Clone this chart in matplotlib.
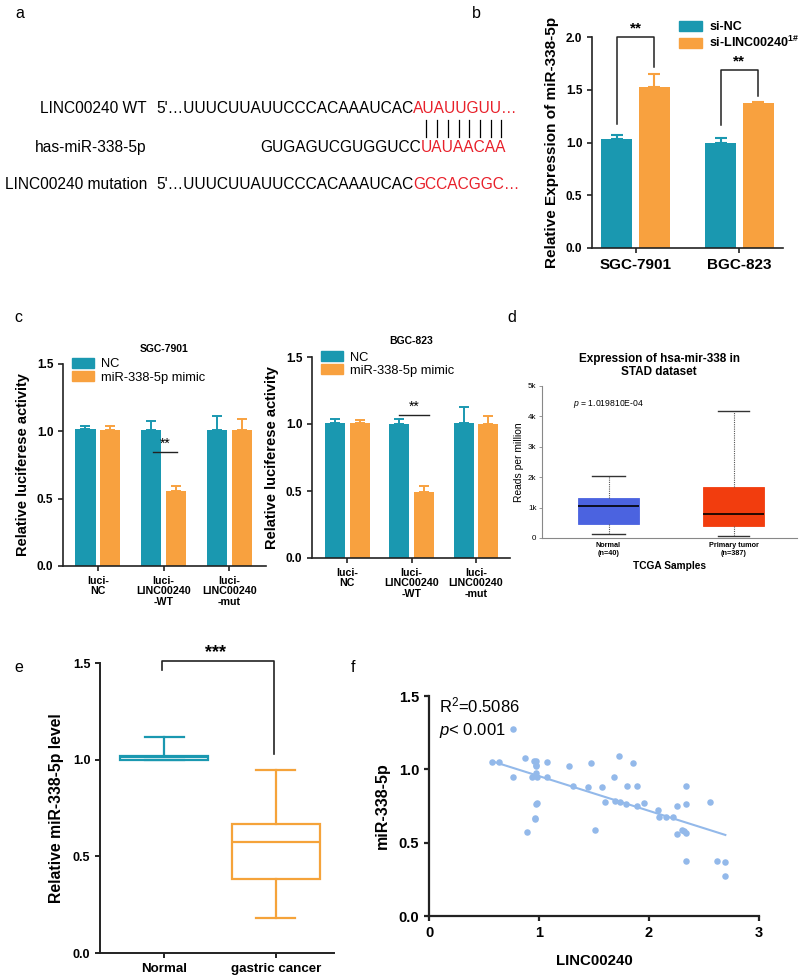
import numpy as np
import matplotlib
matplotlib.use('Agg')
import matplotlib.pyplot as plt
from matplotlib.patches import Patch

plt.rcParams['font.family'] = ['Liberation Sans', 'DejaVu Sans']
plt.rcParams['mathtext.fontset'] = 'custom'
plt.rcParams['mathtext.rm'] = 'Liberation Sans'
plt.rcParams['mathtext.it'] = 'Liberation Sans:italic'
plt.rcParams['mathtext.bf'] = 'Liberation Sans:bold'

TEAL = '#1A98B0'
ORANGE = '#F8A13F'

# ---------------- data ----------------
# panel a
a_names = ['LINC00240 WT', 'has-miR-338-5p', 'LINC00240 mutation']
a_black = ["5'\u2026UUUCUUAUUCCCACAAAUCAC", "GUGAGUCGUGGUCC", "5'\u2026UUUCUUAUUCCCACAAAUCAC"]
a_red = ["AUAUUGUU\u2026", "UAUAACAA", "GCCACGGC\u2026"]

# panel b
b_groups = ['SGC-7901', 'BGC-823']
b_sinc = [1.03, 1.00]
b_sinc_err = [0.04, 0.045]
b_silinc = [1.53, 1.375]
b_silinc_err = [0.115, 0.013]

# panel c
c_groups = ['luci-\nNC', 'luci-\nLINC00240\n-WT', 'luci-\nLINC00240\n-mut']
c1_nc = [1.02, 1.01, 1.01]
c1_nc_err = [0.022, 0.065, 0.105]
c1_mimic = [1.01, 0.56, 1.01]
c1_mimic_err = [0.03, 0.035, 0.08]
c2_nc = [1.01, 1.00, 1.01]
c2_nc_err = [0.025, 0.037, 0.115]
c2_mimic = [1.01, 0.49, 1.00]
c2_mimic_err = [0.022, 0.05, 0.06]

# panel d
d_labels = ['Normal\n(n=40)', 'Primary tumor\n(n=387)']
d_med = [1050, 790]
d_q1 = [460, 395]
d_q3 = [1316, 1667]
d_lo = [120, 77]
d_hi = [2050, 4180]

# panel e
e_labels = ['Normal', 'gastric cancer']
e_med = [1.012, 0.574]
e_q1 = [1.0, 0.385]
e_q3 = [1.02, 0.667]
e_lo = [1.0, 0.181]
e_hi = [1.115, 0.947]

# panel f
f_x = [0.764, 0.576, 0.636, 0.764, 0.873, 0.894, 0.933, 0.958, 0.973, 0.970,
       0.976, 0.973, 0.985, 0.970, 0.985, 0.961, 0.961, 1.070, 1.070, 1.273,
       1.309, 1.448, 1.470, 1.512, 1.570, 1.597, 1.682, 1.694, 1.730, 1.733,
       1.794, 1.803, 1.858, 1.891, 1.894, 1.952, 2.082, 2.091, 2.152, 2.218,
       2.258, 2.258, 2.297, 2.318, 2.339, 2.339, 2.339, 2.333, 2.552, 2.618,
       2.688, 2.694]
f_y = [1.277, 1.047, 1.047, 0.947, 1.077, 0.571, 0.947, 1.058, 1.058, 1.029,
       1.022, 0.972, 0.947, 0.765, 0.772, 0.669, 0.658, 1.047, 0.947, 1.022,
       0.886, 0.881, 1.045, 0.587, 0.881, 0.779, 0.947, 0.781, 1.088, 0.774,
       0.763, 0.883, 1.045, 0.753, 0.888, 0.772, 0.722, 0.674, 0.674, 0.672,
       0.749, 0.558, 0.587, 0.578, 0.886, 0.763, 0.569, 0.376, 0.779, 0.376,
       0.369, 0.275]

# ---------------- figure ----------------
W, H = 800, 975
fig = plt.figure(figsize=(W / 100, H / 100), dpi=100)


def add_ax(x0, y0, x1, y1):
    return fig.add_axes([x0 / W, 1 - y1 / H, (x1 - x0) / W, (y1 - y0) / H])


bg = fig.add_axes([0, 0, 1, 1])
bg.set_xlim(0, W)
bg.set_ylim(H, 0)
bg.axis('off')
for lab, (px, py) in zip('abcdef', [(20, 14), (476, 14), (18, 318), (512, 317), (19, 667), (353, 667)]):
    bg.text(px, py, lab, fontsize=11.5, ha='center', va='center')

# ---- panel a ----
FA = 11.2
a_rows_y = [113, 152, 189]
a_start = [156, 260, 156]
fig.canvas.draw()
renderer = fig.canvas.get_renderer()
red_texts = []
for name, blk, red, y, x0 in zip(a_names, a_black, a_red, a_rows_y, a_start):
    bg.text(147, y, name, fontsize=FA, ha='right', va='baseline')
    tb = bg.text(x0, y, blk, fontsize=FA, ha='left', va='baseline')
    tr = bg.annotate(red, xy=(1, 0), xycoords=tb, fontsize=FA, color='#E8202A',
                     ha='left', va='bottom')
    red_texts.append(tr)
fig.canvas.draw()
# base-pairing bars centred on each paired nucleotide of the miRNA seed
tr = red_texts[1]
bb = tr.get_window_extent(renderer)
x_left_px = bb.x0
inv = bg.transData.inverted()
for i in range(len(a_red[1])):
    t1 = bg.text(0, 0, a_red[1][:i], fontsize=FA)
    t2 = bg.text(0, 0, a_red[1][:i + 1], fontsize=FA)
    w1 = t1.get_window_extent(renderer).width if i > 0 else 0
    w2 = t2.get_window_extent(renderer).width
    t1.remove(); t2.remove()
    cx = x_left_px + (w1 + w2) / 2
    xd = inv.transform((cx, 0))[0]
    bg.plot([xd, xd], [120, 137], color='black', lw=0.9)


def style_axes(ax, lw=1.2):
    for s in ['top', 'right']:
        ax.spines[s].set_visible(False)
    for s in ['left', 'bottom']:
        ax.spines[s].set_linewidth(lw)
        ax.spines[s].set_color('#222222')
    ax.tick_params(width=lw, length=3.5, color='#222222')


def fmt1(vals):
    return ['%.1f' % v for v in vals]


# ---- panel b ----
axb = add_ax(592, 37, 783, 248)
xb = np.arange(len(b_groups))
bw, off = 0.30, 0.18
axb.bar(xb - off, b_sinc, bw, color=TEAL, zorder=2)
axb.bar(xb + off, b_silinc, bw, color=ORANGE, zorder=2)
axb.errorbar(xb - off, b_sinc, yerr=[np.zeros(2), b_sinc_err], fmt='none', ecolor=TEAL,
             capsize=4, elinewidth=1.5, capthick=1.5, zorder=1)
axb.errorbar(xb + off, b_silinc, yerr=[np.zeros(2), b_silinc_err], fmt='none', ecolor=ORANGE,
             capsize=4, elinewidth=1.5, capthick=1.5, zorder=1)
style_axes(axb)
axb.set_xlim(-0.42, 1.42)
axb.set_ylim(0, 2.0)
yt = [0, 0.5, 1.0, 1.5, 2.0]
axb.set_yticks(yt)
axb.set_yticklabels(fmt1(yt), fontsize=8.5, fontweight='bold')
axb.set_xticks(xb)
axb.set_xticklabels(b_groups, fontsize=11, fontweight='bold')
axb.set_ylabel('Relative Expression of miR-338-5p', fontsize=11, fontweight='bold', labelpad=5)
for g, top, yl, yr in [(0, 2.0, 1.18, 1.72), (1, 1.69, 1.17, 1.44)]:
    axb.plot([g - off, g - off, g + off, g + off], [yl, top, top, yr], color='#222222',
             lw=1.1, clip_on=False)
    axb.text(g, top + 0.01, '**', ha='center', va='bottom', fontsize=11, fontweight='bold',
             clip_on=False)
axb.legend(handles=[Patch(color=TEAL, label='si-NC'),
                    Patch(color=ORANGE, label=r'si-LINC00240$^{\mathbf{1\#}}$')],
           loc='upper left', bbox_to_anchor=(0.43, 1.10), frameon=False,
           prop=dict(size=9, weight='bold'), handlelength=1.8, handleheight=0.9,
           labelspacing=0.15, borderaxespad=0, handletextpad=0.6)


# ---- panel c ----
def draw_c(ax, nc, nce, mm, mme, title, sig_y, sig_x):
    x = np.arange(3)
    w, o = 0.31, 0.19
    ax.bar(x - o, nc, w, color=TEAL, zorder=2)
    ax.bar(x + o, mm, w, color=ORANGE, zorder=2)
    ax.errorbar(x - o, nc, yerr=[np.zeros(3), nce], fmt='none', ecolor=TEAL, capsize=3.5,
                elinewidth=1.4, capthick=1.4, zorder=1)
    ax.errorbar(x + o, mm, yerr=[np.zeros(3), mme], fmt='none', ecolor=ORANGE, capsize=3.5,
                elinewidth=1.4, capthick=1.4, zorder=1)
    style_axes(ax)
    ax.set_ylim(0, 1.5)
    yt = [0, 0.5, 1.0, 1.5]
    ax.set_yticks(yt)
    ax.set_yticklabels(fmt1(yt), fontsize=8.5, fontweight='bold')
    ax.set_xticks(x)
    ax.set_xticklabels(c_groups, fontsize=7.7, fontweight='bold', linespacing=1.05)
    ax.set_ylabel('Relative luciferese activity', fontsize=10.5, fontweight='bold', labelpad=5)
    ax.set_title(title, fontsize=7.5, fontweight='bold', pad=9)
    ax.plot(sig_x, [sig_y, sig_y], color='#222222', lw=1.0)
    ax.text(np.mean(sig_x), sig_y + 0.005, '**', ha='center', va='bottom', fontsize=10)
    ax.legend(handles=[Patch(color=TEAL, label='NC'), Patch(color=ORANGE, label='miR-338-5p mimic')],
              loc='upper left', bbox_to_anchor=(0.02, 1.055), frameon=False,
              prop=dict(size=9.3), handlelength=1.7, handleheight=0.8,
              labelspacing=0.05, borderaxespad=0, handletextpad=0.5)


axc1 = add_ax(63, 364, 266, 566)
axc1.set_xlim(-0.53, 2.56)
draw_c(axc1, c1_nc, c1_nc_err, c1_mimic, c1_mimic_err, 'SGC-7901', 0.85, [0.84, 1.2])
axc2 = add_ax(312, 357, 510, 558)
axc2.set_xlim(-0.55, 2.53)
draw_c(axc2, c2_nc, c2_nc_err, c2_mimic, c2_mimic_err, 'BGC-823', 1.07, [0.81, 1.27])

# ---- panel d ----
axd = add_ax(542, 386, 797, 538)
d_stats = [dict(med=m, q1=a, q3=b, whislo=lo, whishi=hi, label=l)
           for m, a, b, lo, hi, l in zip(d_med, d_q1, d_q3, d_lo, d_hi, d_labels)]
bp = axd.bxp(d_stats, positions=[1, 2], widths=0.487, capwidths=[0.27, 0.25],
             patch_artist=True, showfliers=False,
             whiskerprops=dict(linestyle=(0, (1, 1)), color='#555555', lw=0.8),
             capprops=dict(color='#333333', lw=1.0),
             medianprops=dict(color='black', lw=1.2))
for patch, c in zip(bp['boxes'], ['#4B63E0', '#F23D0E']):
    patch.set_facecolor(c)
    patch.set_edgecolor(c)
    patch.set_linewidth(0.6)
for s in ['top', 'right']:
    axd.spines[s].set_visible(False)
for s in ['left', 'bottom']:
    axd.spines[s].set_color('#888888')
    axd.spines[s].set_linewidth(0.8)
axd.set_xlim(0.468, 2.508)
axd.set_ylim(0, 5000)
axd.set_yticks([0, 1000, 2000, 3000, 4000, 5000])
axd.set_yticklabels(['0', '1k', '2k', '3k', '4k', '5k'], fontsize=5.8)
axd.tick_params(axis='y', length=2, width=0.6, color='#888888', pad=2)
axd.tick_params(axis='x', length=0, pad=3)
axd.set_xticklabels(d_labels, fontsize=5.2, fontweight='bold', linespacing=1.2)
axd.set_ylabel('Reads per million', fontsize=7.4, labelpad=3)
axd.set_xlabel('TCGA Samples', fontsize=7.3, fontweight='bold', labelpad=3)
axd.set_title('Expression of hsa-mir-338 in\nSTAD dataset', fontsize=8.5, fontweight='bold',
              pad=8, linespacing=1.1, x=0.46)
axd.text(0.12, 0.88, r'$\it{p}$ = 1.019810E-04', transform=axd.transAxes, fontsize=6.2,
         va='center', ha='left')

# ---- panel e ----
axe = add_ax(100, 663, 334, 953)
e_stats = [dict(med=m, q1=a, q3=b, whislo=lo, whishi=hi, label=l)
           for m, a, b, lo, hi, l in zip(e_med, e_q1, e_q3, e_lo, e_hi, e_labels)]
bpe = axe.bxp(e_stats, positions=[1, 2], widths=0.785, capwidths=[0.35, 0.35],
              showfliers=False, patch_artist=True)
for i, c in enumerate([TEAL, '#F5A33A']):
    bpe['boxes'][i].set(facecolor='white', edgecolor=c, linewidth=1.6)
    bpe['medians'][i].set(color=c, linewidth=1.6)
    for k in (2 * i, 2 * i + 1):
        bpe['whiskers'][k].set(color=c, linewidth=1.6)
        bpe['caps'][k].set(color=c, linewidth=1.6)
style_axes(axe, lw=1.4)
axe.set_xlim(0.424, 2.522)
axe.set_ylim(0, 1.5)
yt = [0, 0.5, 1.0, 1.5]
axe.set_yticks(yt)
axe.set_yticklabels(fmt1(yt), fontsize=9, fontweight='bold')
axe.set_xticklabels(e_labels, fontsize=9.6, fontweight='bold')
axe.set_ylabel('Relative miR-338-5p level', fontsize=11.3, fontweight='bold', labelpad=6)
axe.plot([0.98, 0.98, 1.98, 1.98], [1.462, 1.509, 1.509, 1.03], color='#222222', lw=1.2,
         clip_on=False)
axe.text(1.46, 1.512, '***', ha='center', va='bottom', fontsize=13, fontweight='bold',
         clip_on=False)

# ---- panel f ----
axf = add_ax(429, 696, 759, 916)
fx = np.array(f_x)
fy = np.array(f_y)
axf.scatter(fx, fy, s=22, color='#93B9EA', zorder=3, linewidths=0)
slope, intercept = np.polyfit(fx, fy, 1)
xl = np.array([fx.min(), fx.max()])
axf.plot(xl, slope * xl + intercept, color='#93B9EA', lw=1.5, zorder=2)
style_axes(axf, lw=1.6)
axf.set_xlim(0, 3)
axf.set_ylim(0, 1.5)
axf.set_xticks([0, 1, 2, 3])
axf.set_xticklabels(['0', '1', '2', '3'], fontsize=10.5, fontweight='bold')
yt = [0, 0.5, 1.0, 1.5]
axf.set_yticks(yt)
axf.set_yticklabels(fmt1(yt), fontsize=10.5, fontweight='bold')
axf.set_xlabel('LINC00240', fontsize=10.8, fontweight='bold', labelpad=10)
axf.set_ylabel('miR-338-5p', fontsize=11.5, fontweight='bold', labelpad=6)
axf.text(0.03, 0.955, r'R$^2$=0.5086', transform=axf.transAxes, fontsize=12, va='center')
axf.text(0.03, 0.845, r'$\it{p}$< 0.001', transform=axf.transAxes, fontsize=12, va='center')

fig.savefig('out.png', dpi=100)
